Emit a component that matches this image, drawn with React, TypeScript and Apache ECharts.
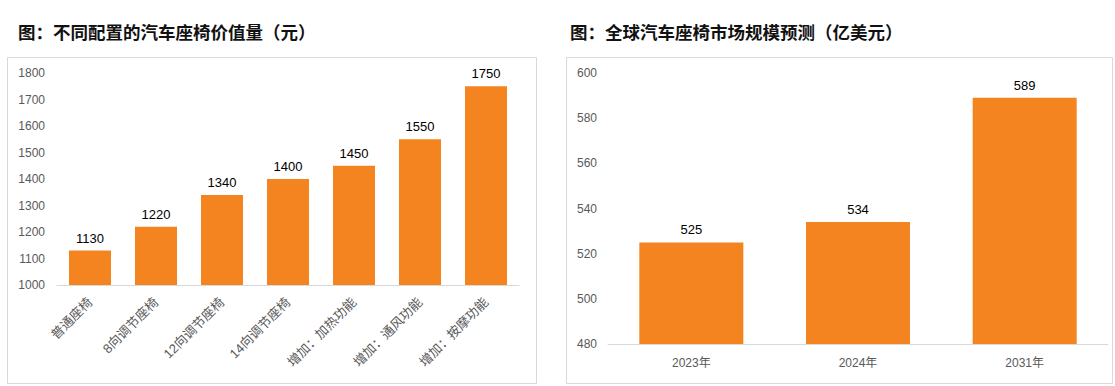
import React, { useEffect, useRef } from "react";
import * as echarts from "echarts";

const leftCategories = ["普通座椅", "8向调节座椅", "12向调节座椅", "14向调节座椅", "增加：加热功能", "增加：通风功能", "增加：按摩功能"];
const leftValues = [1130, 1220, 1340, 1400, 1450, 1550, 1750];
const rightCategories = ["2023年", "2024年", "2031年"];
const rightValues = [525, 534, 589];
const leftTitle = "图：不同配置的汽车座椅价值量（元）";
const rightTitle = "图：全球汽车座椅市场规模预测（亿美元）";

const BAR = "#F3841F";
const AXIS_TEXT = "#595959";
const FONT = "'Liberation Sans', Arial, 'Noto Sans CJK SC', sans-serif";
const plain = (v: number) => String(v);

export default function App() {
  const ref = useRef<HTMLDivElement>(null);
  useEffect(() => {
    if (!ref.current) return;
    const chart = echarts.init(ref.current, null, { renderer: "svg" });
    chart.setOption({
      animation: false,
      backgroundColor: "#ffffff",
      textStyle: { fontFamily: FONT },
      graphic: [
        { type: "rect", shape: { x: 7.5, y: 57.5, width: 529, height: 326 }, style: { fill: "none", stroke: "#d9d9d9", lineWidth: 1 } },
        { type: "rect", shape: { x: 566.5, y: 57.5, width: 546, height: 326 }, style: { fill: "none", stroke: "#d9d9d9", lineWidth: 1 } },
        { type: "text", x: 18, y: 31, style: { text: leftTitle, fill: "#111", font: "bold 17.5px 'Noto Sans CJK SC', sans-serif", textVerticalAlign: "middle" } },
        { type: "text", x: 570, y: 31, style: { text: rightTitle, fill: "#111", font: "bold 17.5px 'Noto Sans CJK SC', sans-serif", textVerticalAlign: "middle" } },
      ],
      grid: [
        { left: 57, right: 1115 - 519, top: 73, bottom: 386 - 285 },
        { left: 608, right: 1115 - 1108, top: 73, bottom: 386 - 344 },
      ],
      xAxis: [
        {
          type: "category", gridIndex: 0, data: leftCategories,
          axisLine: { lineStyle: { color: "#d9d9d9" } }, axisTick: { show: false },
          axisLabel: { rotate: 45, color: AXIS_TEXT, fontSize: 13, margin: 15, interval: 0, fontFamily: FONT },
        },
        {
          type: "category", gridIndex: 1, data: rightCategories,
          axisLine: { lineStyle: { color: "#d9d9d9" } }, axisTick: { show: false },
          axisLabel: { color: AXIS_TEXT, fontSize: 12, margin: 13, fontFamily: FONT },
        },
      ],
      yAxis: [
        {
          type: "value", gridIndex: 0, min: 1000, max: 1800, interval: 100,
          splitLine: { show: false }, axisLine: { show: false }, axisTick: { show: false },
          axisLabel: { color: AXIS_TEXT, fontSize: 12, margin: 12, fontFamily: FONT, formatter: plain },
        },
        {
          type: "value", gridIndex: 1, min: 480, max: 600, interval: 20,
          splitLine: { show: false }, axisLine: { show: false }, axisTick: { show: false },
          axisLabel: { color: AXIS_TEXT, fontSize: 12, margin: 11, fontFamily: FONT, formatter: plain },
        },
      ],
      series: [
        {
          type: "bar", xAxisIndex: 0, yAxisIndex: 0, data: leftValues, barWidth: 42,
          itemStyle: { color: BAR },
          label: { show: true, position: "top", distance: 6, color: "#000", fontSize: 13, fontFamily: FONT },
        },
        {
          type: "bar", xAxisIndex: 1, yAxisIndex: 1, data: rightValues, barWidth: 104,
          itemStyle: { color: BAR },
          label: { show: true, position: "top", distance: 6, color: "#000", fontSize: 13, fontFamily: FONT },
        },
      ],
    });
    return () => chart.dispose();
  }, []);
  return <div ref={ref} style={{ position: "fixed", left: 0, top: 0, width: 1115, height: 386 }} />;
}
